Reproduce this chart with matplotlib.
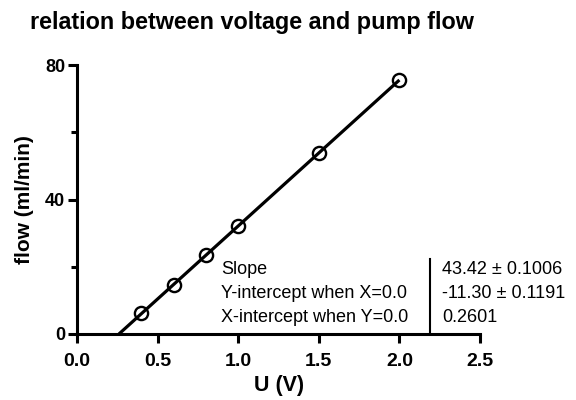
import matplotlib
matplotlib.use("Agg")
import matplotlib.pyplot as plt
import numpy as np

plt.rcParams['font.family'] = ['Liberation Sans', 'DejaVu Sans']

# measured points
voltage = [0.4, 0.6, 0.8, 1.0, 1.5, 2.0]
flow = [6.1, 14.7, 23.4, 32.1, 53.8, 75.5]

# linear fit results shown in the table
slope = 43.42
intercept = -11.30
x_intercept = 0.2601

fit_labels = ["Slope", "Y-intercept when X=0.0", "X-intercept when Y=0.0"]
fit_values = ["43.42 \u00b1 0.1006", "-11.30 \u00b1 0.1191", "0.2601"]

fig = plt.figure(figsize=(5.76, 4.0), dpi=100)
ax = fig.add_axes([77 / 576, 1 - 334 / 400, (480 - 77) / 576, (334 - 65) / 400])

xl = np.array([x_intercept, max(voltage)])
ax.plot(xl, slope * xl + intercept, color='black', lw=2.3, solid_capstyle='butt')
ax.plot(voltage, flow, 'o', mfc='none', mec='black', ms=9.5, mew=1.7)

ax.set_xlim(0, 2.5)
ax.set_ylim(0, 80)
ax.set_xticks([0.0, 0.5, 1.0, 1.5, 2.0, 2.5])
ax.set_xticklabels(["0.0", "0.5", "1.0", "1.5", "2.0", "2.5"])
ax.set_yticks([0, 40, 80])
ax.set_yticks([20, 60], minor=True)

for s in ['top', 'right']:
    ax.spines[s].set_visible(False)
for s in ['left', 'bottom']:
    ax.spines[s].set_linewidth(2.2)
ax.tick_params(which='major', width=2.2, length=6.5)
ax.tick_params(which='minor', width=2.2, length=4)
ax.tick_params(axis='x', labelsize=14, pad=7)
ax.tick_params(axis='y', labelsize=13, pad=2)
for lab in ax.get_xticklabels() + ax.get_yticklabels():
    lab.set_fontweight('bold')

ax.set_ylabel("flow (ml/min)", fontsize=15, fontweight='bold', labelpad=8)
fig.text(279 / 576, 1 - 386 / 400, "U (V)", fontsize=15.5, fontweight='bold',
         ha='center', va='center')

fig.text(30 / 576, 1 - 22 / 400, "relation between voltage and pump flow",
         fontsize=16.8, fontweight='bold', va='center', ha='left')

# fit table
row_y = [270, 294, 318]
for lab, val, y in zip(fit_labels, fit_values, row_y):
    fig.text(221 / 576, 1 - y / 400, lab, fontsize=13, va='center', ha='left')
    fig.text(442 / 576, 1 - y / 400, val, fontsize=13, va='center', ha='left')
fig.add_artist(plt.Line2D([430 / 576, 430 / 576], [1 - 259 / 400, 1 - 334 / 400],
                          color='black', lw=1.5, transform=fig.transFigure))

fig.savefig("out.png", dpi=100)
